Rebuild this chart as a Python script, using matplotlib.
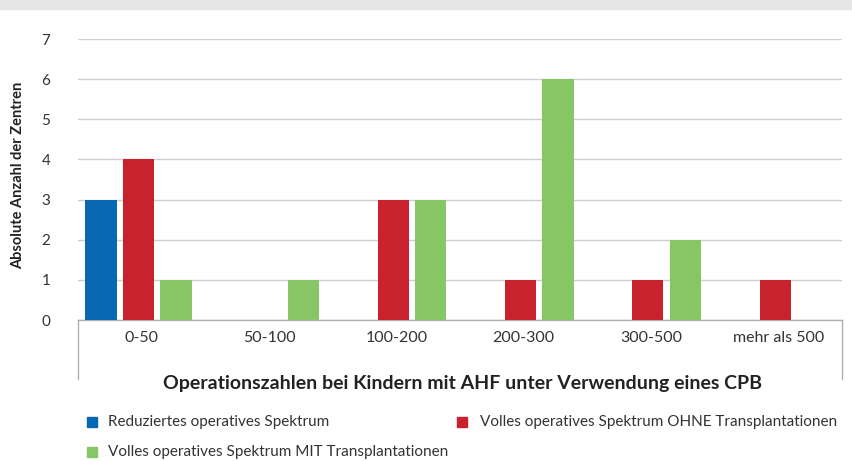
import matplotlib
matplotlib.use("Agg")
import matplotlib.pyplot as plt
from matplotlib.lines import Line2D
from matplotlib.patches import Rectangle
import numpy as np

plt.rcParams['font.family'] = ['Lato', 'DejaVu Sans']

categories = ["0-50", "50-100", "100-200", "200-300", "300-500", "mehr als 500"]
reduziert = [3, 0, 0, 0, 0, 0]
ohne_tx = [4, 0, 3, 1, 1, 1]
mit_tx = [1, 1, 3, 6, 2, 0]
series_names = ["Reduziertes operatives Spektrum",
                "Volles operatives Spektrum OHNE Transplantationen",
                "Volles operatives Spektrum MIT Transplantationen"]
colors = ["#0868b4", "#c8222e", "#88c665"]

W, H = 853, 461
fig = plt.figure(figsize=(W / 100, H / 100), dpi=100)
fig.patches.append(Rectangle((0, 1 - 9 / H), 1, 9 / H, transform=fig.transFigure,
                             color="#e6e6e6", zorder=0))

x0, x1, ytop, ybot = 78, 842, 39, 320
ax = fig.add_axes([x0 / W, 1 - ybot / H, (x1 - x0) / W, (ybot - ytop) / H])

x = np.arange(len(categories))
bw = 0.245
off = 0.295
series = [reduziert, ohne_tx, mit_tx]
for i, (vals, c) in enumerate(zip(series, colors)):
    xs = [xi + (i - 1) * off - 0.025 for xi, v in zip(x, vals) if v > 0]
    vs = [v for v in vals if v > 0]
    ax.bar(xs, vs, width=bw, color=c, zorder=3)

ax.set_xlim(-0.5, len(categories) - 0.5)
ax.set_ylim(0, 7)
ax.set_yticks(range(0, 8))
ax.yaxis.grid(True, color="#cfcfcf", linewidth=1, zorder=0)
ax.tick_params(axis='y', length=0, pad=20, labelsize=11, labelcolor="#333333")
ax.set_xticks(x)
ax.set_xticklabels(categories)
ax.tick_params(axis='x', length=0, pad=8, labelsize=11.5, labelcolor="#333333")
for s in ["top", "right", "left"]:
    ax.spines[s].set_visible(False)
ax.spines["bottom"].set_color("#b0b0b0")
ax.spines["bottom"].set_linewidth(1)

# outer vertical axis box lines
for xa in (0, 1):
    ax.add_line(Line2D([xa, xa], [0, -(379 - 320) / (ybot - ytop)], transform=ax.transAxes,
                       color="#b0b0b0", linewidth=1, clip_on=False))

fig.text(18 / W, 1 - 175 / H, "Absolute Anzahl der Zentren", rotation=90,
         ha="center", va="center", fontsize=10.5, fontweight="bold", color="#222222")
fig.text(463 / W, 1 - 383 / H, "Operationszahlen bei Kindern mit AHF unter Verwendung eines CPB",
         ha="center", va="center", fontsize=14, fontweight="bold", color="#222222")

# legend
leg_pos = [(87, 422, 108), (457, 422, 480), (87, 452, 108)]
for (lx, ly, tx), name, c in zip(leg_pos, series_names, colors):
    fig.patches.append(Rectangle((lx / W, 1 - (ly + 5) / H), 10 / W, 10 / H,
                                 transform=fig.transFigure, color=c))
    fig.text(tx / W, 1 - ly / H, name, ha="left", va="center",
             fontsize=11, color="#333333")

fig.savefig("out.png", dpi=100)
